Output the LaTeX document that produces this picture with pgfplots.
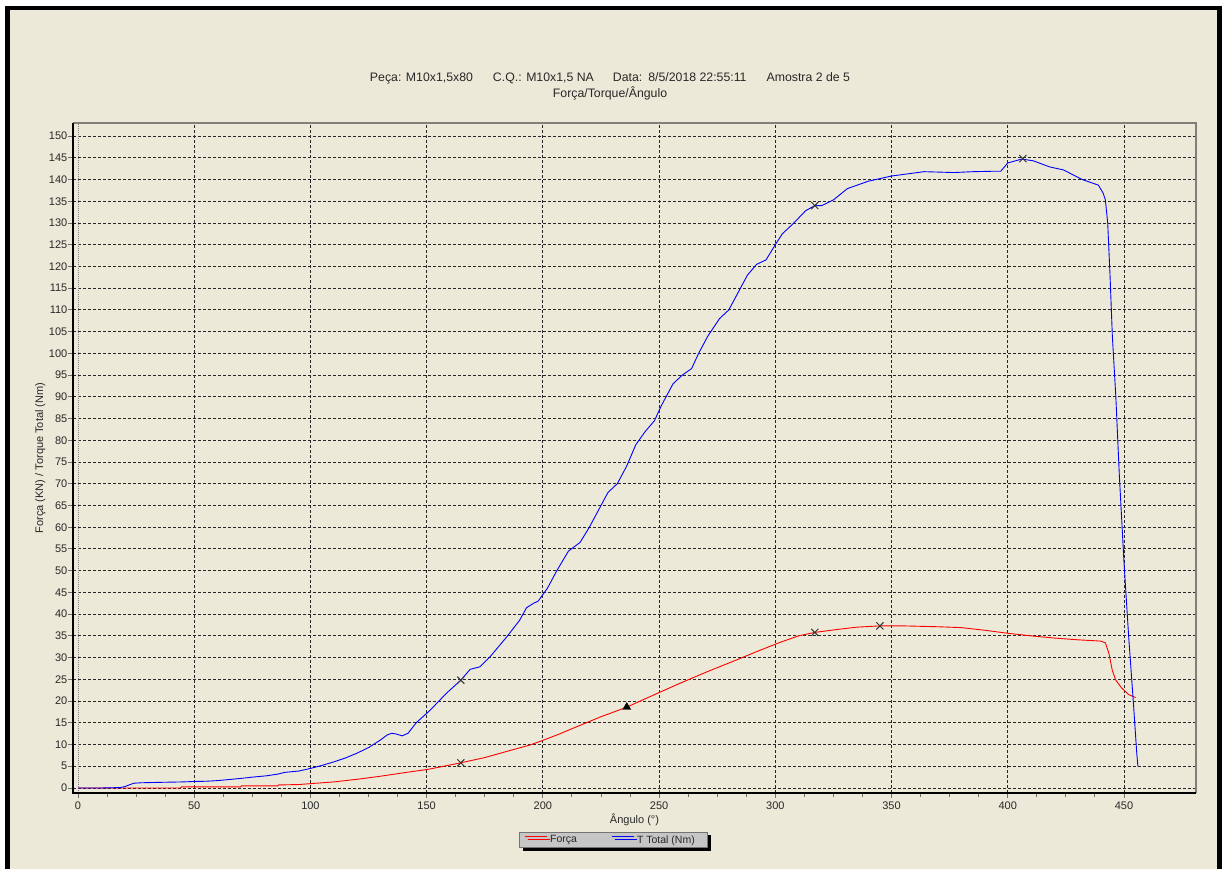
\documentclass[border=0pt]{standalone}
\usepackage{fontspec}
\setmainfont{Liberation Sans}
\usepackage{pgfplots}
\pgfplotsset{compat=1.18}
\usetikzlibrary{shadows}
\definecolor{bg}{RGB}{236,233,216}
\definecolor{lgray}{RGB}{198,198,198}
\definecolor{tickc}{RGB}{110,110,110}
\definecolor{labc}{RGB}{40,40,40}
\definecolor{framegray}{RGB}{128,128,120}
\begin{document}
\begin{tikzpicture}
\path[use as bounding box] (0pt,0pt) rectangle (1224pt,868pt);
\clip (0pt,0pt) rectangle (1224pt,868pt);
\fill[white] (0pt,0pt) rectangle (1224pt,868pt);
\draw[line width=4.5pt, fill=bg] (7.5pt,-30pt) rectangle (1219.5pt,860pt);
\node[anchor=base, font=\fontsize{12.3}{14}\selectfont, text=labc, inner sep=0pt] at (610pt,786pt)
  {Peça: M10x1,5x80\hspace{20pt}C.Q.: M10x1,5 NA\hspace{19pt}Data:\hspace{6pt}8/5/2018 22:55:11\hspace{20pt}Amostra 2 de 5};
\node[anchor=base, font=\fontsize{12.3}{14}\selectfont, text=labc, inner sep=0pt] at (610pt,770pt) {Força/Torque/Ângulo};
\begin{axis}[
  at={(73pt,75pt)}, anchor=south west,
  scale only axis, width=1123pt, height=670pt,
  xmin=-2.15, xmax=481, ymin=-1.15, ymax=153,
  axis line style={draw=none},
  clip=false,
  xtick={50,100,...,450},
  extra x ticks={0},
  extra x tick style={grid style={dash pattern=on 1pt off 1pt, gray, line width=0.9pt}},
  minor xtick={12.5,25,...,437.5},
  ytick={0,5,...,150},
  xmajorgrids, ymajorgrids,
  grid style={dash pattern=on 3pt off 2pt, black!85, line width=0.9pt},
  tick align=outside, xtick pos=bottom, ytick pos=left,
  major tick length=5pt, minor tick length=4pt,
  tick style={tickc, line width=0.9pt},
  /pgf/number format/assume math mode=true,
  ticklabel style={font=\fontsize{11}{13}\selectfont, text=labc},
  xticklabel style={anchor=north, inner sep=0pt, yshift=-4pt},
  yticklabel style={anchor=east, inner sep=0pt, xshift=-0.5pt},
  xlabel={Ângulo (°)},
  xlabel style={at={(axis description cs:0.5,-0.0458)}, anchor=base, inner sep=0pt, font=\fontsize{11}{13}\selectfont, text=labc},
  ylabel={Força (KN) / Torque Total (Nm)},
  ylabel style={at={(axis description cs:-0.0265,0.5)}, anchor=base, inner sep=0pt, font=\fontsize{11}{13}\selectfont, text=labc},
  legend columns=2,
  legend image code/.code={\draw[#1, line width=0.9pt] (0pt,3.6pt) -- (22pt,3.6pt);},
  legend style={at={(axis description cs:0.4814,-0.0701)}, anchor=center,
    draw=black!55, fill=lgray, line width=0.8pt,
    inner xsep=4.5pt, inner ysep=1.5pt,
    font=\fontsize{10.5}{12}\selectfont, text=labc,
    drop shadow={shadow xshift=3pt, shadow yshift=-3pt, fill=black, opacity=1},
    nodes={inner sep=1.5pt},
    /tikz/every odd column/.append style={column sep=1.5pt},
    /tikz/every even column/.append style={column sep=0pt}},
]
\addplot[red, line width=0.9pt] coordinates {
(0,0) (44,0) (44.6,0.25) (70,0.25) (70.4,0.5) (86,0.5) (86.2,0.7) (95,0.8)
(100,1.0) (110,1.4) (120,2.0) (130,2.7) (140,3.5) (150.7,4.3) (164.7,5.8)
(175,7.0) (185,8.5) (194.5,9.9) (200.2,11.0) (207,12.4) (215,14.2) (225,16.4)
(236.1,18.6) (246,21.0) (259,24.1) (270,26.6) (283,29.4) (293,31.6) (302,33.5)
(310,35.0) (317,35.8) (327,36.5) (335,37.0) (345,37.3) (355,37.3) (370,37.1)
(380,36.9) (390,36.3) (400,35.6) (410,35.0) (420,34.5) (430,34.1) (440,33.8)
(442,33.4) (443.5,31) (445,27) (446.5,24.8) (449,23) (452,21.5) (455,20.8)
};
\addlegendentry{\makebox[59.5pt][l]{Força}}
\addplot[blue, line width=0.9pt] coordinates {
(0,0) (10,0) (18,0.1) (20,0.3) (22,0.7) (24,1.1) (27,1.2) (35,1.3) (45,1.4)
(50,1.5) (55,1.55) (60,1.7) (65,1.95) (70,2.2) (75,2.5) (81,2.8) (86,3.2)
(89,3.6) (95,3.9) (100,4.5) (105,5.2) (110,6.0) (115,6.9) (120,8.0) (125,9.3)
(130,11.0) (133,12.2) (135,12.6) (137,12.4) (139.5,12.0) (142,12.6) (145.5,15.0)
(151.5,17.9) (158.5,21.8) (164.7,24.8) (168.7,27.3) (173,27.9) (177.3,30.2)
(184.5,34.8) (190,38.6) (193,41.5) (196,42.5) (198,43) (202,46) (206,50)
(211,54.5) (216,56.5) (220,60) (224,64) (228,68) (232,70) (236,74) (240,79)
(244,82) (248,84.5) (251,88) (256,93) (260,95) (264,96.5) (267,100) (271,104)
(276,108) (280,110) (284,114) (288,118) (292,120.5) (296,121.5) (300,125)
(303,127.5) (308,130) (313,132.8) (317,134) (320,134) (325,135.3) (331,137.9)
(340,139.6) (350,140.8) (364,141.8) (377,141.6) (385,141.8) (394,141.9)
(397,141.9) (400,143.8) (406,144.7) (411,144.3) (418,142.9) (424,142.2)
(432,140.0) (439,138.7) (441,136.9) (442,135.3) (443,130) (444,118) (445,104)
(446.5,90) (448,72) (450,52) (452,35) (454,20) (455.5,8) (456,5)
};
\addlegendentry{\makebox[64.5pt][l]{T Total (Nm)}}
\addplot[only marks, mark=x, mark size=5pt, black!80, line width=1pt, forget plot]
  coordinates {(164.7,24.8) (317,134) (406.5,144.8) (164.7,5.8) (317,35.8) (345,37.3)};
\addplot[only marks, mark=triangle*, mark size=4.6pt, black, forget plot]
  coordinates {(236.1,18.6)};
\draw[framegray, line width=2pt] (rel axis cs:0,1) -- (rel axis cs:1,1) -- (rel axis cs:1,0);
\draw[black, line width=2pt] (rel axis cs:0,1) -- (rel axis cs:0,0) -- (rel axis cs:1,0);
\end{axis}
\end{tikzpicture}
\end{document}
